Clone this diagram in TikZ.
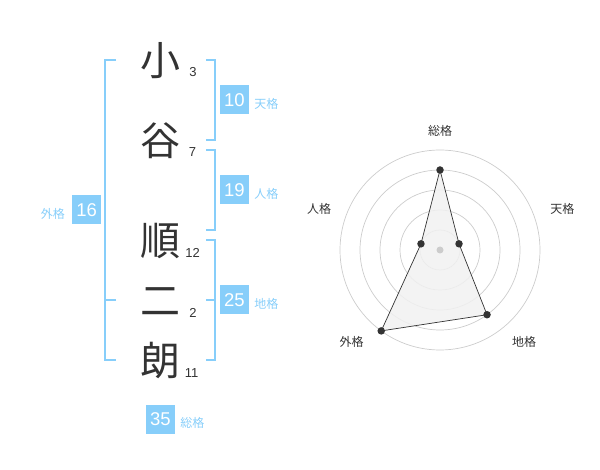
\documentclass[tikz,border=0pt]{standalone}
\usepackage{fontspec}
\setmainfont{Liberation Sans}
\newfontfamily\jpfont{Noto Sans CJK JP}
\usetikzlibrary{calc}
\usetikzlibrary{positioning}
\definecolor{kakublue}{RGB}{135,206,250}
\definecolor{inkgray}{RGB}{51,51,51}
\definecolor{ringgray}{RGB}{204,204,204}
\definecolor{areagray}{RGB}{241,241,241}

\begin{document}
\begin{tikzpicture}
	 [x=1pt, y=1pt,
	kanji/.style = {font=\jpfont\fontsize{40}{40}\selectfont, text=inkgray, inner sep=0pt, text height=35.2pt, text depth=4.8pt},
	strokes/.style = {font=\fontsize{13}{13}\selectfont, text=inkgray, inner sep=0pt},
	bracket/.style = {draw=kakublue, line width=1.6pt},
	score/.style = {fill=kakublue, text=white, minimum size=29pt, inner sep=0pt, font=\fontsize{18.5}{18.5}\selectfont},
	kaku/.style = {text=kakublue, font=\jpfont\fontsize{12}{12}\selectfont, inner sep=0pt},
	axislabel/.style = {text=inkgray, font=\jpfont\fontsize{12}{12}\selectfont, inner sep=0pt},
	ring/.style = {draw=ringgray, line width=0.7pt},
	dot/.style = {fill=inkgray, circle, inner sep=0pt, minimum size=7.5pt},
	centerdot/.style = {fill=ringgray, circle, inner sep=0pt, minimum size=7pt}
	]
	\useasboundingbox (0,-470) rectangle (600,0);

	\node[kanji] (k1) at (160,-60) {小};
	\node[kanji] (k2) at (160,-140) {谷};
	\node[kanji] (k3) at (160,-240) {順};
	\node[kanji] (k4) at (160,-300) {二};
	\node[kanji] (k5) at (160,-360) {朗};

	\node[strokes] (s1) at (193,-72.5) {3};
	\node[strokes] (s2) at (192.5,-152.5) {7};
	\node[strokes] (s3) at (192.7,-253) {12};
	\node[strokes] (s4) at (193,-313) {2};
	\node[strokes] (s5) at (191.7,-372.7) {11};

	\coordinate (ga) at (116,-60);
	\coordinate (gb) at (116,-300);
	\coordinate (gc) at (116,-360);
	\draw[bracket] (ga) -- (105,-60) -- (105,-360) -- (gc);
	\draw[bracket] (gb) -- (105,-300);

	\coordinate (ta) at (206,-60);
	\coordinate (tb) at (206,-140);
	\draw[bracket] (ta) -- (215,-60) -- (215,-140) -- (tb);

	\coordinate (ja) at (206,-150);
	\coordinate (jb) at (206,-230);
	\draw[bracket] (ja) -- (215,-150) -- (215,-230) -- (jb);

	\coordinate (ca) at (206,-240);
	\coordinate (cb) at (206,-300);
	\coordinate (cc) at (206,-360);
	\draw[bracket] (ca) -- (215,-240) -- (215,-360) -- (cc);
	\draw[bracket] (cb) -- (215,-300);

	\node[score] (ten) at (234.5,-100) {10};
	\node[kaku, right=5pt of ten, yshift=-4pt] (tenl) {天格};
	\node[score] (jin) at (234.5,-190) {19};
	\node[kaku, right=5pt of jin, yshift=-4pt] (jinl) {人格};
	\node[score] (chi) at (234.5,-300) {25};
	\node[kaku, right=5pt of chi, yshift=-4pt] (chil) {地格};
	\node[score] (gai) at (86.7,-210) {16};
	\node[kaku, left=7pt of gai, yshift=-4pt] (gail) {外格};
	\node[score] (sou) at (160.5,-419) {35};
	\node[kaku, right=5pt of sou, yshift=-4pt] (soul) {総格};

	\coordinate (c) at (440,-250);
	\foreach \r in {20,40,60,80,100}
		\draw[ring] (c) circle (\r);

	\coordinate (psou) at ($(c)+(90:80)$);
	\coordinate (pten) at ($(c)+(18:20)$);
	\coordinate (pchi) at ($(c)+(-54:80)$);
	\coordinate (pgai) at ($(c)+(-126:100)$);
	\coordinate (pjin) at ($(c)+(162:20)$);
	\draw[inkgray, fill=areagray, fill opacity=0.85, line width=0.7pt] (psou) -- (pten) -- (pchi) -- (pgai) -- (pjin) -- cycle;
	\node[centerdot] (cdot) at (c) {};
	\foreach \p in {psou,pten,pchi,pgai,pjin}
		\node[dot] (d\p) at (\p) {};

	\node[axislabel] (lsou) at (440,-130.7) {総格};
	\node[axislabel] (lten) at (562.3,-208.7) {天格};
	\node[axislabel] (ljin) at (319,-208.7) {人格};
	\node[axislabel] (lchi) at (524,-342.3) {地格};
	\node[axislabel] (lgai) at (351.7,-342.3) {外格};
\end{tikzpicture}
\end{document}
